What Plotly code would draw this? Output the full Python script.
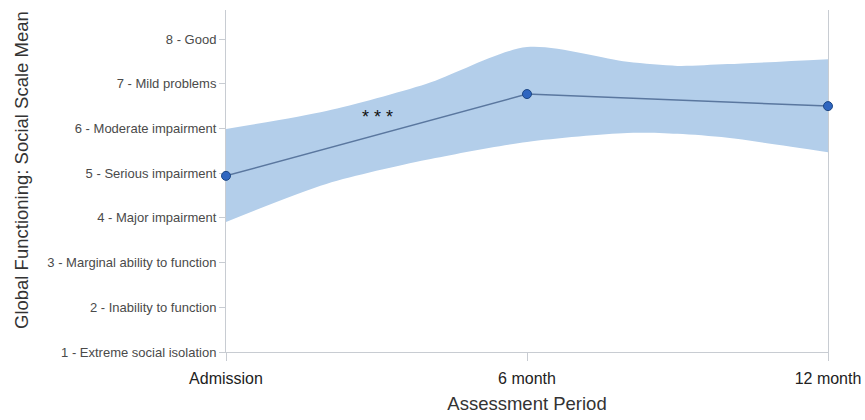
import plotly.graph_objects as go

# Data
periods = [0, 6, 12]
period_labels = ["Admission", "6 month", "12 month"]
mean_score = [4.94, 6.77, 6.50]

band_months = [0, 2, 4, 6, 8, 9, 10, 12]
band_upper = [5.99, 6.39, 7.00, 7.82, 7.49, 7.40, 7.44, 7.55]
band_lower = [3.91, 4.76, 5.30, 5.70, 5.90, 5.88, 5.79, 5.47]

score_ticks = [1, 2, 3, 4, 5, 6, 7, 8]
score_labels = [
    "1 - Extreme social isolation",
    "2 - Inability to function",
    "3 - Marginal ability to function",
    "4 - Major impairment",
    "5 - Serious impairment",
    "6 - Moderate impairment",
    "7 - Mild problems",
    "8 - Good",
]

sig_month = 3.02
sig_score = 6.25
sig_text = "* * *"

band_color = "rgb(179,206,234)"
FONT = "Liberation Sans, Arial, sans-serif"

fig = go.Figure()
fig.add_trace(go.Scatter(
    x=band_months, y=band_lower, mode="lines",
    line=dict(width=0, color=band_color, shape="spline", smoothing=0.8),
    hoverinfo="skip", showlegend=False,
))
fig.add_trace(go.Scatter(
    x=band_months, y=band_upper, mode="lines",
    line=dict(width=0, color=band_color, shape="spline", smoothing=0.8),
    fill="tonexty", fillcolor=band_color,
    hoverinfo="skip", showlegend=False,
))
fig.add_trace(go.Scatter(
    x=periods, y=mean_score, mode="lines+markers",
    line=dict(color="#5a779f", width=1.5),
    marker=dict(size=9, color="#2f66c0", line=dict(color="#1d4785", width=1)),
    showlegend=False, cliponaxis=False,
))

fig.add_annotation(
    x=sig_month, y=sig_score, text=sig_text, showarrow=False,
    font=dict(family=FONT, size=18, color="#111"),
)

# Y axis title as a rotated annotation
fig.add_annotation(
    xref="paper", yref="paper",
    x=(21 - 226) / 602, y=(352 - 170) / 342,
    text="Global Functioning: Social Scale Mean",
    textangle=-90, showarrow=False,
    xanchor="center", yanchor="middle",
    font=dict(family=FONT, size=18.5, color="#333"),
)

axis_line = "#c8ccd2"
fig.update_layout(
    width=865, height=420,
    margin=dict(l=226, r=37, t=10, b=68, autoexpand=False),
    plot_bgcolor="white", paper_bgcolor="white",
    font=dict(family=FONT),
    xaxis=dict(
        range=[0, 12], tickvals=periods, ticktext=period_labels,
        showgrid=False, zeroline=False, automargin=False,
        showline=True, linecolor=axis_line, linewidth=1,
        ticks="outside", ticklen=8, tickcolor=axis_line,
        ticklabelstandoff=4, layer="below traces",
        tickfont=dict(size=16, color="#222"),
        title=dict(text="Assessment Period", font=dict(size=18.5, color="#333"), standoff=10),
    ),
    yaxis=dict(
        range=[1, 8.65], tickvals=score_ticks, ticktext=score_labels,
        showgrid=False, zeroline=False, automargin=False,
        showline=True, linecolor=axis_line, linewidth=1, mirror=True,
        ticks="outside", ticklen=6, tickcolor=axis_line,
        layer="below traces",
        tickfont=dict(size=13, color="#4a4a4a"),
    ),
)

fig.write_html("out.html", config={"displayModeBar": False})

# remove default browser body margin so the figure sits at (0,0)
with open("out.html", "r", encoding="utf-8") as f:
    html = f.read()
html = html.replace("<head>", "<head><style>body{margin:0;padding:0;overflow:hidden;}</style>", 1)
with open("out.html", "w", encoding="utf-8") as f:
    f.write(html)
